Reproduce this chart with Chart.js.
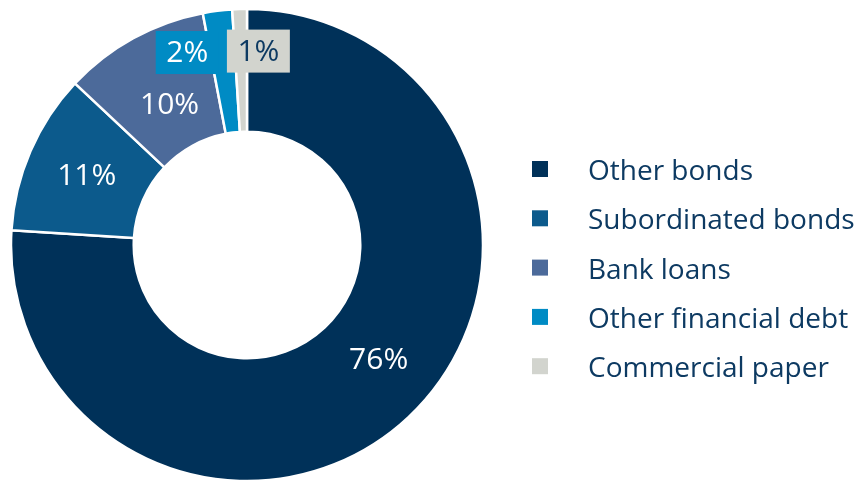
<!DOCTYPE html>
<html>
<head>
<meta charset="utf-8">
<script src="https://cdn.jsdelivr.net/npm/chart.js@4.4.1/dist/chart.umd.min.js"></script>
<style>
  html, body { margin: 0; padding: 0; background: #fff; }
  #wrap { width: 861px; height: 480px; position: relative; }
</style>
</head>
<body>
<div id="wrap"><canvas id="chart"></canvas></div>
<script>
// debt breakdown, % of total
const categories = ['Other bonds', 'Subordinated bonds', 'Bank loans', 'Other financial debt', 'Commercial paper'];
const shares = [76, 11, 10, 2, 1];
const sliceColors = ['#003159', '#0c5a8c', '#4c6a9a', '#008bc4', '#d2d4ce'];
const labelColors = ['#ffffff', '#ffffff', '#ffffff', '#ffffff', '#0d3a62'];

const FONT = '"Open Sans", "Noto Sans", sans-serif';
const TEXT_NAVY = '#0d3a62';

// percentage labels on the ring; the two tiny slices get boxed labels up top
const sliceLabels = {
    id: 'sliceLabels',
    afterDatasetsDraw(chart) {
        const ctx = chart.ctx;
        const meta = chart.getDatasetMeta(0);
        ctx.save();
        ctx.font = '30px ' + FONT;
        ctx.textBaseline = 'middle';
        meta.data.forEach((arc, i) => {
            const txt = shares[i] + '%';
            const p = arc.getProps(['x', 'y', 'startAngle', 'endAngle', 'innerRadius', 'outerRadius']);
            const mid = (p.startAngle + p.endAngle) / 2;
            if (shares[i] >= 5) {
                let r = (p.innerRadius + p.outerRadius) / 2;
                let a = mid;
                if (i === 0) { a = mid - 0.1; }
                if (i === 2) { r -= 14; }
                ctx.fillStyle = labelColors[i];
                ctx.textAlign = 'center';
                ctx.fillText(txt, p.x + Math.cos(a) * r, p.y + Math.sin(a) * r + 1);
            } else {
                const r = 194;
                const px = p.x + Math.cos(mid) * r;
                const py = p.y + Math.sin(mid) * r;
                const w = ctx.measureText(txt).width + 21;
                const h = 43;
                const left = i === shares.length - 1 ? px - 14 : px - 4 - w;
                ctx.fillStyle = sliceColors[i];
                ctx.fillRect(left, py - h / 2, w, h);
                ctx.fillStyle = labelColors[i];
                ctx.textAlign = 'center';
                ctx.fillText(txt, left + w / 2, py + 1);
            }
        });
        ctx.restore();
    }
};

// legend on the right
const sideLegend = {
    id: 'sideLegend',
    afterDraw(chart) {
        const ctx = chart.ctx;
        ctx.save();
        ctx.font = '28px ' + FONT;
        ctx.textAlign = 'left';
        ctx.textBaseline = 'alphabetic';
        chart.data.labels.forEach((lab, i) => {
            const cy = 169 + i * 49.3;
            ctx.fillStyle = sliceColors[i];
            ctx.fillRect(532, cy - 8, 16, 16);
            ctx.fillStyle = TEXT_NAVY;
            ctx.fillText(lab, 588, cy + 11);
        });
        ctx.restore();
    }
};

new Chart(document.getElementById('chart'), {
    type: 'doughnut',
    data: {
        labels: categories,
        datasets: [{
            data: shares,
            backgroundColor: sliceColors,
            borderColor: '#ffffff',
            borderWidth: 2.5,
            hoverOffset: 0
        }]
    },
    options: {
        responsive: true,
        maintainAspectRatio: false,
        animation: false,
        radius: 236,
        cutout: '48%',
        layout: { padding: { left: 11, right: 378, top: 10, bottom: 0 } },
        plugins: {
            legend: { display: false },
            tooltip: { enabled: false }
        }
    },
    plugins: [sliceLabels, sideLegend]
});
</script>
</body>
</html>
